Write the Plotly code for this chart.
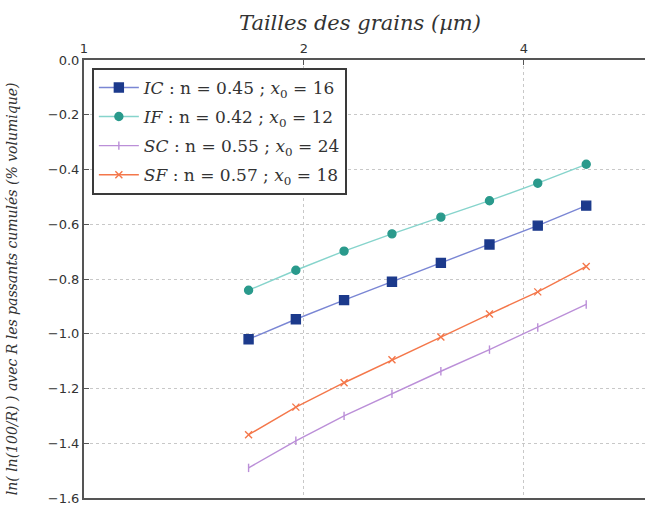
import plotly.graph_objects as go

# Grain sizes (µm) and ln(ln(100/R)) for each sample
sizes = [1.68, 1.95, 2.27, 2.64, 3.08, 3.59, 4.18, 4.87]
ic_vals = [-1.020, -0.947, -0.877, -0.810, -0.741, -0.674, -0.605, -0.532]
if_vals = [-0.841, -0.768, -0.698, -0.635, -0.574, -0.514, -0.450, -0.381]
sc_vals = [-1.490, -1.391, -1.300, -1.219, -1.137, -1.058, -0.977, -0.893]
sf_vals = [-1.369, -1.268, -1.179, -1.095, -1.012, -0.928, -0.847, -0.754]

x_ticks = [1, 2, 4]
y_ticks = [0.0, -0.2, -0.4, -0.6, -0.8, -1.0, -1.2, -1.4, -1.6]

series = [
    ("IC", "0.45", "16", ic_vals, "#7a86d4", "#1c3a8c", "square", 9),
    ("IF", "0.42", "12", if_vals, "#86d4cc", "#2a9a8c", "circle", 8),
    ("SC", "0.55", "24", sc_vals, "#bb8fd8", "#bb8fd8", "line-ns", 6),
    ("SF", "0.57", "18", sf_vals, "#f4774a", "#f4774a", "x-thin", 7),
]

sp = "&nbsp;"
fig = go.Figure()
for name, n, x0, vals, lc, mc, sym, ms in series:
    label = (f"<i>{name}</i>{sp}:{sp}n{sp}={sp}{n}{sp};{sp}"
             f"<i>x</i><sub>0</sub>{sp}={sp}{x0}")
    fig.add_trace(go.Scatter(
        x=sizes, y=vals, mode="lines+markers",
        name=label, legendgroup=name,
        line=dict(color=lc, width=1.4),
        marker=dict(symbol=sym, size=ms, color=mc,
                    line=dict(color=mc, width=1.4)),
    ))

fig.update_layout(
    width=645, height=506,
    margin=dict(l=84, r=0, t=60, b=6),
    paper_bgcolor="white", plot_bgcolor="white",
    font=dict(family="DejaVu Sans", size=13, color="#333333"),
    legend=dict(
        x=0.014, y=0.982, xanchor="left", yanchor="top",
        bgcolor="white", bordercolor="#3a3a3a", borderwidth=2,
        font=dict(family="DejaVu Serif", size=17, color="#333333"),
        itemwidth=40, tracegroupgap=4,
    ),
    showlegend=True,
)

fig.update_xaxes(
    type="log", range=[0, 0.768], side="top",
    tickvals=x_ticks, ticktext=[str(v) for v in x_ticks],
    ticks="inside", ticklen=5, tickcolor="#555555",
    showline=True, linecolor="#555555", linewidth=2, mirror=True,
    showgrid=True, gridcolor="#c8c8c8", griddash="dot", gridwidth=1,
    zeroline=False,
    tickfont=dict(family="DejaVu Sans", size=13, color="#333333"),
)
fig.update_yaxes(
    range=[-1.6, 0.0], tickvals=y_ticks, tickformat=".1f",
    ticks="inside", ticklen=5, tickcolor="#555555",
    showline=True, linecolor="#555555", linewidth=2,
    showgrid=True, gridcolor="#c8c8c8", griddash="dot", gridwidth=1,
    zeroline=False, ticklabeloverflow="allow",
    tickfont=dict(family="DejaVu Sans", size=13, color="#333333"),
)

fig.add_annotation(
    text="<i>Tailles des grains (µm)</i>",
    xref="paper", yref="paper", x=0.492, y=1.084,
    xanchor="center", yanchor="middle", showarrow=False,
    font=dict(family="DejaVu Serif", size=21, color="#333333"),
)
fig.add_annotation(
    text="<i>ln( ln(100/R) ) avec R les passants cumulés (% volumique)</i>",
    xref="paper", yref="paper", x=-0.128, y=0.477,
    xanchor="center", yanchor="middle", textangle=-90, showarrow=False,
    font=dict(family="DejaVu Serif", size=14, color="#333333"),
)

fig.write_html("out.html")
